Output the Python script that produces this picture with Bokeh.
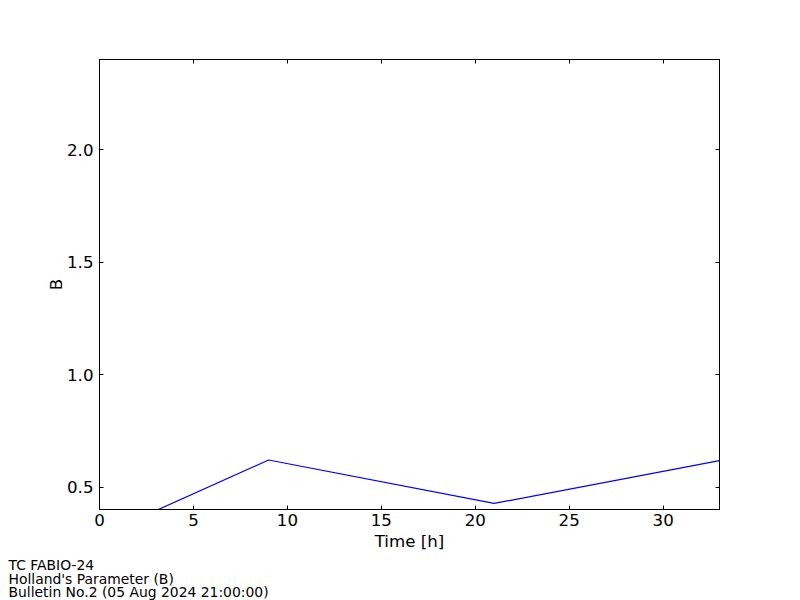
from bokeh.plotting import figure
from bokeh.models import LinearAxis, FixedTicker, Range1d, Title, NumeralTickFormatter, CustomJSTickFormatter
from bokeh.embed import file_html
from bokeh.resources import INLINE

# data
hours = [3, 9, 21, 33]
b_values = [0.395, 0.62, 0.427, 0.617]
x_ticks = [0, 5, 10, 15, 20, 25, 30]
y_ticks = [0.5, 1.0, 1.5, 2.0]
footer_lines = ["TC FABIO-24", "Holland's Parameter (B)", "Bulletin No.2 (05 Aug 2024  21:00:00)"]

FONT = "DejaVu Sans"
BIG = "16.67px"
SMALL = "13.9px"

p = figure(width=784, height=584, output_backend="svg", toolbar_location=None,
           x_range=Range1d(0, 33), y_range=Range1d(0.4, 2.4),
           frame_width=620, frame_height=450,
           min_border_left=99, min_border_top=59, min_border_right=65, min_border_bottom=75,
           x_axis_label="Time [h]", y_axis_label="B")
p.xgrid.visible = False
p.ygrid.visible = False
p.outline_line_color = "black"
p.outline_line_width = 1
p.background_fill_color = "white"
p.border_fill_color = "white"

p.line(hours, b_values, line_color="#0000ff", line_width=1.2)

def style(ax, labels=True, fmt="0"):
    ax.major_tick_in = 4
    ax.major_tick_out = 0
    ax.minor_tick_in = 0
    ax.minor_tick_out = 0
    ax.axis_line_color = "black"
    ax.major_tick_line_color = "black"
    ax.major_label_text_font = FONT
    ax.major_label_text_font_size = BIG
    ax.major_label_text_color = "black"
    ax.axis_label_text_font = FONT
    ax.axis_label_text_font_size = BIG
    ax.axis_label_text_font_style = "normal"
    ax.axis_label_text_color = "black"
    if labels:
        ax.formatter = NumeralTickFormatter(format=fmt)
    else:
        ax.formatter = CustomJSTickFormatter(code="return ''")
        ax.major_label_standoff = 0

xa = p.xaxis[0]
ya = p.yaxis[0]
xa.ticker = FixedTicker(ticks=x_ticks)
ya.ticker = FixedTicker(ticks=y_ticks)
style(xa, fmt="0")
style(ya, fmt="0.0")
xa.major_label_standoff = 4
xa.axis_label_standoff = 3
ya.major_label_standoff = 6
ya.axis_label_standoff = -2

top = LinearAxis(ticker=FixedTicker(ticks=x_ticks))
right = LinearAxis(ticker=FixedTicker(ticks=y_ticks))
style(top, labels=False)
style(right, labels=False)
p.add_layout(top, "above")
p.add_layout(right, "right")

footer = Title(text="\n".join(footer_lines), align="left", offset=-91,
               text_font=FONT, text_font_size=SMALL, text_font_style="normal",
               text_color="black", standoff=2, text_line_height=0.86)
p.add_layout(footer, "below")

open("out.html", "w").write(file_html(p, INLINE))
